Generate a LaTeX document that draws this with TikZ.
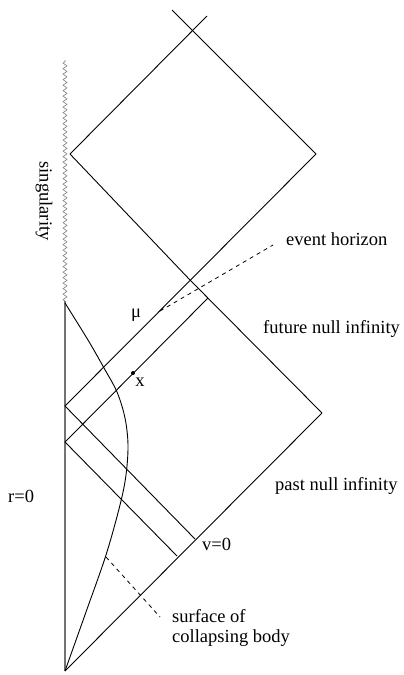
\documentclass[tikz,border=0pt]{standalone}
\usepackage{fontspec}
\setmainfont{Liberation Serif}
\usetikzlibrary{decorations.pathmorphing}
\begin{document}
\begin{tikzpicture}[x=1pt,y=-1pt,
  ln/.style={line width=0.9pt,black},
  axis/.style={line width=1.2pt,black!55},
  dsh/.style={line width=0.8pt,dash pattern=on 4pt off 4pt},
  sing/.style={line width=0.6pt,gray,decorate,decoration={zigzag,segment length=5.5pt,amplitude=2pt}},
  lbl/.style={inner sep=0pt,font=\fontsize{18.5}{21}\selectfont}]
\useasboundingbox (0,0) rectangle (404,675);
% coordinates
\coordinate (O) at (65,671);
\coordinate (R1) at (322,413);
\coordinate (Rtop) at (65,301);
\coordinate (Stop) at (65,60);
\coordinate (L2) at (70,154);
\coordinate (X1) at (190,280);
\coordinate (T2) at (207,16);
\coordinate (T1) at (172,10);
\coordinate (R2) at (316,154);
\coordinate (H1) at (65,406);
\coordinate (H2) at (65,442);
\coordinate (F2) at (208,298);
\coordinate (G2) at (195,539);
\coordinate (Hh2) at (177,556);
\coordinate (xp) at (133,373);
\coordinate (d1a) at (160,311);
\coordinate (d1b) at (273,245);
\coordinate (d2a) at (106,557);
\coordinate (d2b) at (160,617);
% lines
\draw[axis] (O) -- (Rtop);
\draw[sing] (Rtop) -- (Stop);
\draw[ln] (O) -- (R1);
\draw[ln] (R1) -- (X1) -- (L2);
\draw[ln] (L2) -- (T2);
\draw[ln] (T1) -- (R2);
\draw[ln] (H1) -- (R2);
\draw[ln] (H2) -- (F2);
\draw[ln] (H1) -- (G2);
\draw[ln] (H2) -- (Hh2);
% collapsing body surface
\draw[ln] plot[smooth,tension=0.55] coordinates {(65,303) (88,340) (104,368) (117,392) (125,418) (128,445) (126,475) (120,505) (106,555) (86,612) (65,671)};
% dashed pointers
\draw[dsh] (d1a) -- (d1b);
\draw[dsh] (d2a) -- (d2b);
\fill (xp) circle (2pt);
% labels
\node[lbl,anchor=base west] (eh) at (286,245) {event horizon};
\node[lbl,anchor=base west] (fni) at (263,333) {future null infinity};
\node[lbl,anchor=base west] (pni) at (275,490) {past null infinity};
\node[lbl,anchor=base west] (r0) at (8,502) {r=0};
\node[lbl,anchor=base west] (v0) at (202,550) {v=0};
\node[lbl,anchor=base west] (sb) at (172,622) {surface of};
\node[lbl,anchor=base west] (sb2) at (172,642) {collapsing body};
\node[lbl] (mu) at (136,315) {μ};
\node[lbl] (xl) at (140,382) {x};
\node[lbl,rotate=-90] (sg) at (44,201) {singularity};
\end{tikzpicture}
\end{document}
